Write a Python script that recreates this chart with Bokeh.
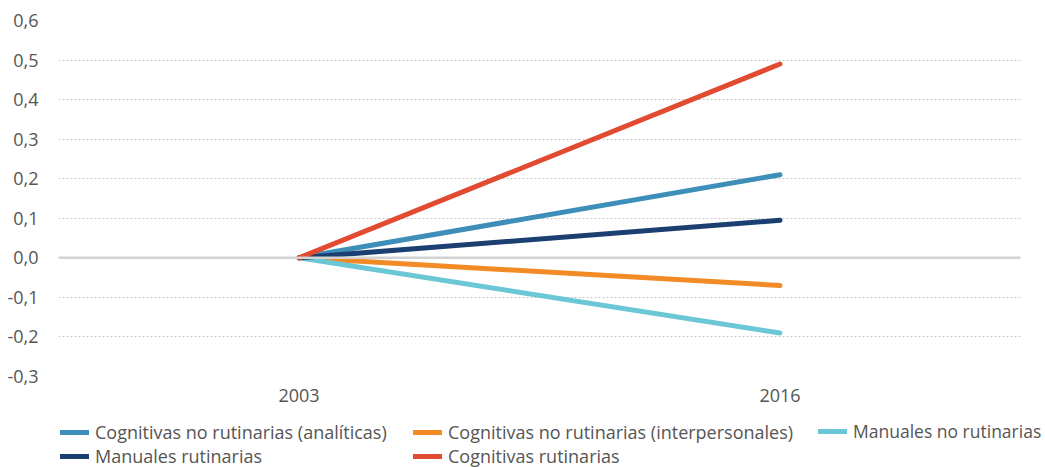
from bokeh.plotting import figure
from bokeh.layouts import column
from bokeh.models import FactorRange, Range1d, FixedTicker, Span, Legend, LegendItem
from bokeh.embed import file_html
from bokeh.resources import INLINE

years = ["2003", "2016"]
cog_analiticas = [0.0, 0.21]
cog_interpersonales = [0.0, -0.07]
man_no_rutinarias = [0.0, -0.19]
man_rutinarias = [0.0, 0.095]
cog_rutinarias = [0.0, 0.49]

names = [
    "Cognitivas no rutinarias (analíticas)",
    "Cognitivas no rutinarias (interpersonales)",
    "Manuales no rutinarias",
    "Manuales rutinarias",
    "Cognitivas rutinarias",
]
series = [cog_analiticas, cog_interpersonales, man_no_rutinarias, man_rutinarias, cog_rutinarias]
colors = ["#3d8fba", "#f28b25", "#6bc6d5", "#1c3f72", "#e04b32"]

y_ticks = [-0.3, -0.2, -0.1, 0.0, 0.1, 0.2, 0.3, 0.4, 0.5, 0.6]
y_labels = ["-0,3", "-0,2", "-0,1", "0,0", "0,1", "0,2", "0,3", "0,4", "0,5", "0,6"]

FONT = "Open Sans"
TXT = "#555555"
FS = "18px"

W = 1045
H1 = 420
H2 = 47

p = figure(width=W, height=H1, x_range=FactorRange(*years), y_range=Range1d(-0.3, 0.6),
           output_backend="svg", toolbar_location=None,
           min_border_left=58, min_border_right=25, min_border_top=20, min_border_bottom=44)
p.frame_align = False
p.outline_line_color = None
p.background_fill_color = "white"
p.border_fill_color = "white"

p.xgrid.grid_line_color = None
p.ygrid.ticker = FixedTicker(ticks=y_ticks)
p.ygrid.grid_line_color = "#c8c8c8"
p.ygrid.grid_line_dash = "2 2"
p.ygrid.grid_line_width = 1

p.yaxis.ticker = FixedTicker(ticks=y_ticks)
p.yaxis.major_label_overrides = {t: l for t, l in zip(y_ticks, y_labels)}
for ax in (p.xaxis[0], p.yaxis[0]):
    ax.axis_line_color = None
    ax.major_tick_line_color = None
    ax.minor_tick_line_color = None
    ax.major_tick_out = 0
    ax.major_tick_in = 0
    ax.major_label_text_font = FONT
    ax.major_label_text_font_size = FS
    ax.major_label_text_color = TXT
p.yaxis.major_label_standoff = 20
p.xaxis.major_label_standoff = 12

p.add_layout(Span(location=0, dimension="width", line_color="#d2d2d2", line_width=2.5))

for name, vals, c in zip(names, series, colors):
    p.line(years, vals, line_color=c, line_width=5, line_cap="round")

# legend strip below the chart (its own lines fall outside its view; only swatches show)
q = figure(width=W, height=H2, x_range=FactorRange(*years), y_range=Range1d(10, 11),
           x_axis_type=None, y_axis_type=None, output_backend="svg", toolbar_location=None,
           min_border=0, min_border_left=0, min_border_right=0, min_border_top=0, min_border_bottom=0)
q.frame_align = False
q.outline_line_color = None
q.grid.visible = False
q.background_fill_color = "white"
q.border_fill_color = "white"

swatches = [q.line(years, vals, line_color=c, line_width=5, line_cap="round")
            for vals, c in zip(series, colors)]

columns = [[0, 3], [1, 4], [2]]
col_x = [60, 413, 818]
col_y = [-1, -1, 24]
col_fs = [FS, FS, "17.5px"]
for idxs, x, y, fs in zip(columns, col_x, col_y, col_fs):
    lg = Legend(items=[LegendItem(label=names[i], renderers=[swatches[i]]) for i in idxs],
                location=(x, y), orientation="vertical")
    lg.label_text_font = FONT
    lg.label_text_font_size = fs
    lg.label_text_color = TXT
    lg.glyph_width = 29
    lg.glyph_height = 20
    lg.label_height = 20
    lg.label_standoff = 6
    lg.spacing = 0
    lg.padding = 0
    lg.margin = 0
    lg.border_line_color = None
    lg.background_fill_alpha = 0
    lg.inactive_fill_alpha = 0
    q.add_layout(lg, "center")

layout = column(p, q, spacing=0)
open("out.html", "w").write(file_html(layout, INLINE))
